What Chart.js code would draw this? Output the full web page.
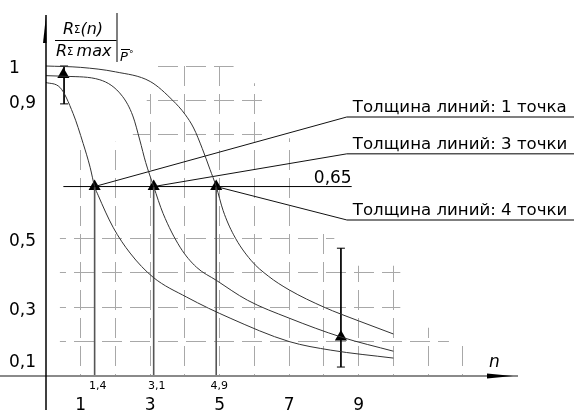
<!DOCTYPE html>
<html>
<head>
<meta charset="utf-8">
<script src="https://cdn.jsdelivr.net/npm/chart.js@4.4.1/dist/chart.umd.min.js"></script>
<style>
  html, body { margin: 0; padding: 0; background: #fff; }
  canvas { display: block; }
</style>
</head>
<body>
<canvas id="chart" width="574" height="410"></canvas>
<script>
// curves R(n)/Rmax
const nLine1 = [0, 0.4, 0.78, 1.07, 1.27, 1.4, 1.5, 1.93, 2.42, 3.08, 4.05, 5.3, 7.0, 8.2, 10];
const rLine1 = [0.952, 0.938, 0.862, 0.775, 0.706, 0.65, 0.625, 0.532, 0.457, 0.387, 0.329, 0.268, 0.2, 0.175, 0.152];
const nLine3 = [0, 0.6, 1.55, 2.2, 2.5, 2.7, 2.87, 3.1, 3.37, 3.86, 4.33, 4.9, 5.8, 7.0, 8.5, 10];
const rLine3 = [0.972, 0.97, 0.96, 0.912, 0.855, 0.785, 0.72, 0.65, 0.572, 0.474, 0.416, 0.378, 0.32, 0.268, 0.213, 0.172];
const nLine4 = [0, 1, 2, 3, 3.65, 4.0, 4.25, 4.5, 4.72, 4.9, 5.1, 5.4, 5.9, 6.4, 7.0, 8.0, 9.0, 10];
const rLine4 = [1.0, 0.996, 0.983, 0.955, 0.9, 0.86, 0.82, 0.76, 0.7, 0.65, 0.58, 0.51, 0.436, 0.39, 0.35, 0.3, 0.26, 0.222];

const level = 0.65;
const levelFrom = 0.5;
const levelTo = 8.8;
const crossN = [1.4, 3.1, 4.9];
const crossLabels = ['1,4', '3,1', '4,9'];

const markerN = [0.5, 1.4, 3.1, 4.9, 8.49];
const markerR = [0.975, 0.65, 0.65, 0.65, 0.213];
const errN = [0.52, 8.49];
const errLow = [0.89, 0.126];
const errHigh = [1.0, 0.471];

const leaderLabels = ['Толщина линий: 1 точка', 'Толщина линий: 3 точки', 'Толщина линий: 4 точки'];
const leaderBendN = 8.66;
const leaderEndN = 15.2;
const leaderLevels = [0.852, 0.745, 0.553];

const xTickLabels = [1, 3, 5, 7, 9];
const yTickLabels = [1, 0.9, 0.5, 0.3, 0.1];

const FONT = '"DejaVu Sans", sans-serif';
const gridGray = '#a8a8a8';

const pts = (ns, rs) => ns.map((n, i) => ({ x: n, y: rs[i] }));
const fmt = v => String(v).replace('.', ',');

const curveStyle = {
    borderColor: '#333', borderWidth: 1, pointRadius: 0,
    cubicInterpolationMode: 'monotone', clip: false
};
const plain = (data, color, width) => ({
    data, borderColor: color, borderWidth: width, pointRadius: 0, clip: false
});

const datasets = [
    { ...curveStyle, data: pts(nLine1, rLine1) },
    { ...curveStyle, data: pts(nLine3, rLine3) },
    { ...curveStyle, data: pts(nLine4, rLine4) },
    plain([{ x: levelFrom, y: level }, { x: levelTo, y: level }], '#000', 1),
];
crossN.forEach(n => datasets.push(plain([{ x: n, y: level }, { x: n, y: 0.1 }], '#555', 1.6)));
leaderLevels.forEach((v, i) => {
    datasets.push(plain([{ x: crossN[i], y: level }, { x: leaderBendN, y: v }], '#111', 1));
    datasets.push(plain([{ x: leaderBendN, y: v }, { x: leaderEndN, y: v }], '#555', 1.5));
});
errN.forEach((n, i) => datasets.push({
    data: [{ x: n, y: errHigh[i] }, { x: n, y: errLow[i] }],
    borderColor: '#000', borderWidth: 1, clip: false,
    pointStyle: 'line', pointRadius: 4, pointBorderColor: '#000', pointBorderWidth: 1
}));
datasets.push({
    data: pts(markerN, markerR), showLine: false, clip: false,
    pointStyle: 'triangle', pointRadius: 7,
    pointBackgroundColor: '#000', pointBorderColor: '#000', pointBorderWidth: 0
});

// staircase outline of the background grid (n, R)
const gridOutline = [
    [0.4, 0.1], [0.4, 0.78], [2.5, 0.78], [2.5, 0.82], [2.9, 0.82], [2.9, 0.92],
    [3.2, 0.92], [3.2, 1.02], [5.4, 1.02], [5.4, 0.95], [6.4, 0.95], [6.4, 0.79],
    [7.2, 0.79], [7.2, 0.52], [8.3, 0.52], [8.3, 0.42], [10.2, 0.42], [10.2, 0.24],
    [11.6, 0.24], [11.6, 0.19], [12.2, 0.19], [12.2, 0.1]
];

const gridClip = {
    id: 'gridClip',
    beforeDraw(chart) {
        const { ctx, scales: { x, y } } = chart;
        ctx.save();
        ctx.beginPath();
        gridOutline.forEach(([n, v], i) => {
            const px = x.getPixelForValue(n), py = y.getPixelForValue(v);
            i ? ctx.lineTo(px, py) : ctx.moveTo(px, py);
        });
        ctx.closePath();
        ctx.rect(0, chart.chartArea.bottom, chart.width, chart.height - chart.chartArea.bottom);
        ctx.clip();
    },
    beforeDatasetsDraw(chart) {
        chart.ctx.restore();
    }
};

const drawing = {
    id: 'drawing',
    afterDraw(chart) {
        const { ctx, scales: { x, y } } = chart;
        const x0 = x.getPixelForValue(0);
        const yAxis = y.getPixelForValue(0.1);
        ctx.save();

        // axes
        ctx.strokeStyle = '#8a8a8a';
        ctx.lineWidth = 2;
        ctx.beginPath(); ctx.moveTo(0, yAxis); ctx.lineTo(518, yAxis); ctx.stroke();
        ctx.strokeStyle = '#000';
        ctx.lineWidth = 1.5;
        ctx.beginPath(); ctx.moveTo(x0, 15); ctx.lineTo(x0, chart.height); ctx.stroke();
        ctx.fillStyle = '#000';
        ctx.beginPath(); ctx.moveTo(x0, 16); ctx.lineTo(x0 - 3, 43); ctx.lineTo(x0 + 0.5, 43); ctx.fill();
        ctx.beginPath(); ctx.moveTo(513, yAxis); ctx.lineTo(487, yAxis - 2.5); ctx.lineTo(487, yAxis + 2.5); ctx.fill();

        ctx.font = 'italic 17px ' + FONT;
        ctx.textAlign = 'left';
        ctx.textBaseline = 'alphabetic';
        ctx.fillText('n', 489, 367);

        // y labels
        ctx.font = '17px ' + FONT;
        ctx.textBaseline = 'middle';
        yTickLabels.forEach(v => {
            const py = y.getPixelForValue(v) + (v === 0.1 ? -13 : 3);
            ctx.fillText(fmt(v), 9, py);
        });

        // crossing labels
        ctx.font = '11px ' + FONT;
        ctx.textAlign = 'center';
        ctx.textBaseline = 'alphabetic';
        crossN.forEach((n, i) => ctx.fillText(crossLabels[i], x.getPixelForValue(n) + 3, yAxis + 13));

        // level label
        ctx.font = '17px ' + FONT;
        ctx.textAlign = 'right';
        ctx.fillText(fmt(level), x.getPixelForValue(levelTo), y.getPixelForValue(level) - 4);

        // leader labels
        ctx.font = '16.6px ' + FONT;
        ctx.textAlign = 'left';
        leaderLabels.forEach((t, i) => ctx.fillText(t, x.getPixelForValue(leaderBendN) + 6, y.getPixelForValue(leaderLevels[i]) - 5));

        // y axis title: R(n)/Rmax with bar and P
        const run = (parts, px, py) => parts.forEach(([t, f, dy]) => {
            ctx.font = f;
            ctx.fillText(t, px, py + (dy || 0));
            px += ctx.measureText(t).width;
        });
        const it = 'italic 16px ' + FONT, sm = '10px ' + FONT;
        run([['R', it], ['Σ', sm, -1], ['(n)', it]], 63, 34);
        run([['R', it], ['Σ ', sm, -1], ['max', it]], 56, 56);
        ctx.lineWidth = 1;
        ctx.beginPath(); ctx.moveTo(55, 40.5); ctx.lineTo(117, 40.5); ctx.stroke();
        ctx.lineWidth = 1.5;
        ctx.strokeStyle = '#555';
        ctx.beginPath(); ctx.moveTo(117, 13); ctx.lineTo(117, 62); ctx.stroke();
        ctx.font = 'italic 13px ' + FONT;
        ctx.fillText('P', 120, 61);
        ctx.font = '9px ' + FONT;
        ctx.fillText('°', 129, 57);
        ctx.lineWidth = 1;
        ctx.strokeStyle = '#000';
        ctx.beginPath(); ctx.moveTo(121, 49.5); ctx.lineTo(130, 49.5); ctx.stroke();

        ctx.restore();
    }
};

new Chart(document.getElementById('chart'), {
    type: 'line',
    data: { datasets },
    plugins: [gridClip, drawing],
    options: {
        responsive: false,
        animation: false,
        events: [],
        layout: { autoPadding: false, padding: { left: 46, top: 66, right: 0, bottom: 0 } },
        plugins: { legend: { display: false }, tooltip: { enabled: false } },
        scales: {
            x: {
                type: 'linear', min: 0, max: 15.2,
                border: { display: false, dash: [20, 8] },
                grid: {
                    drawTicks: false, lineWidth: 1,
                    color: c => (c.tick && c.tick.value >= 1 && c.tick.value <= 12) ? gridGray : 'transparent'
                },
                ticks: {
                    stepSize: 1, autoSkip: false, maxRotation: 0, padding: 19,
                    color: '#000', font: { family: FONT, size: 17 },
                    callback: v => xTickLabels.includes(v) ? String(v) : ''
                },
                afterFit: s => { s.height = 34; s.paddingLeft = 0; s.paddingRight = 0; }
            },
            y: {
                type: 'linear', min: 0.1, max: 1.0,
                border: { display: false, dash: [20, 8] },
                grid: {
                    drawTicks: false, lineWidth: 1,
                    color: c => {
                        const k = c.tick ? Math.round(c.tick.value * 10) : 0;
                        return (k >= 2 && k !== 6 && k !== 7) ? gridGray : 'transparent';
                    }
                },
                ticks: { stepSize: 0.1, display: false },
                afterFit: s => { s.width = 0; s.paddingTop = 0; s.paddingBottom = 0; }
            }
        },
        elements: { line: { tension: 0 } }
    }
});
</script>
</body>
</html>
